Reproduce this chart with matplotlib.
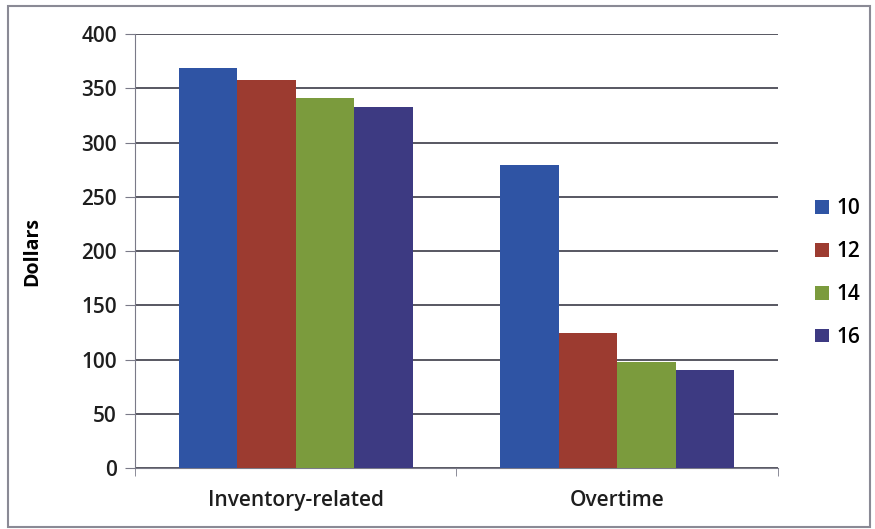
import numpy as np
import matplotlib.pyplot as plt
from matplotlib.patches import Rectangle

plt.rcParams['font.family'] = ['Open Sans', 'DejaVu Sans']

categories = ['Inventory-related', 'Overtime']
series_names = ['10', '12', '14', '16']
values = {
    '10': [369, 279],
    '12': [358, 124],
    '14': [341, 98],
    '16': [333, 90],
}
colors = ['#2f54a4', '#9c3b30', '#7b9b3d', '#3d3a82']

fig = plt.figure(figsize=(8.75, 5.29), dpi=100)
ax = fig.add_axes([0.1543, 0.1153, 0.7346, 0.8204])

# excel style: gap width 150% between groups
n = len(series_names)
bar_w = 1.0 / (n + 1.5)
x = np.arange(len(categories))
handles = []
for i, name in enumerate(series_names):
    offs = (i - (n - 1) / 2) * bar_w
    b = ax.bar(x + offs, values[name], width=bar_w, color=colors[i],
               label=name, zorder=3, linewidth=0)
    handles.append(b)

ax.set_xlim(-0.5, len(categories) - 0.5)
ax.set_ylim(0, 400)
ax.set_yticks(np.arange(0, 401, 50))
ax.yaxis.grid(True, color='#4a4a55', linewidth=1.3, zorder=0)
ax.set_axisbelow(True)

for s in ['top', 'right']:
    ax.spines[s].set_visible(False)
ax.spines['left'].set_color('#7a7a88')
ax.spines['bottom'].set_color('#7a7a88')

ax.set_xticks(x)
ax.set_xticklabels(categories, fontsize=15, color='#1e1e1e', fontweight='semibold')
ax.tick_params(axis='x', length=0, pad=16)
ax.set_xticks(np.arange(-0.5, len(categories)), minor=True)
ax.tick_params(axis='x', which='minor', length=6, color='#7a7a88')
ax.tick_params(axis='y', length=7, color='#7a7a88', labelsize=15,
               labelcolor='#1e1e1e', pad=6)
for t in ax.get_yticklabels():
    t.set_fontweight('semibold')

ax.set_ylabel('Dollars', fontsize=14, fontweight='bold', labelpad=28)

leg = fig.legend(handles=handles, labels=series_names, loc='center left',
                 bbox_to_anchor=(0.91, 0.484), frameon=False,
                 fontsize=15, handlelength=0.65, handleheight=0.65,
                 handletextpad=0.4, labelspacing=1.05)
for t in leg.get_texts():
    t.set_fontweight('semibold')

# thin frame around the whole chart
fig.patches.append(Rectangle((8 / 875, 2 / 529), 862 / 875, 521 / 529,
                             transform=fig.transFigure, fill=False,
                             edgecolor='#8a8a95', linewidth=1.5))

fig.savefig('out.png', dpi=100)
